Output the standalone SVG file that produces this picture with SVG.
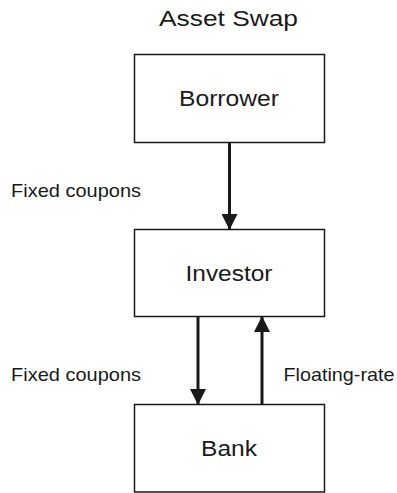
<svg xmlns="http://www.w3.org/2000/svg" width="397" height="493" viewBox="0 0 397 493">
  <style>
    text { font-family: "Liberation Sans", Arial, sans-serif; fill: #1a1a1a; }
    .node rect { fill: #ffffff; stroke: #1a1a1a; stroke-width: 1.5; }
    .name { font-size: 22px; text-anchor: middle; }
    .label { font-size: 18.5px; }
    .flow { stroke: #1a1a1a; stroke-width: 3; fill: none; }
  </style>
  <defs>
    <marker id="head" viewBox="0 0 16 16" refX="15" refY="8" markerWidth="16" markerHeight="16" markerUnits="userSpaceOnUse" orient="auto">
      <path d="M0,0 L16,8 L0,16 Z" fill="#1a1a1a"/>
    </marker>
  </defs>
  <rect width="397" height="493" fill="#ffffff"/>

  <text class="name" x="228.5" y="26" textLength="139" lengthAdjust="spacingAndGlyphs">Asset Swap</text>

  <g id="borrower" class="node">
    <rect x="134.5" y="54.5" width="190" height="88"/>
    <text class="name" x="229" y="106" textLength="100" lengthAdjust="spacingAndGlyphs">Borrower</text>
  </g>
  <g id="investor" class="node">
    <rect x="134.5" y="229.5" width="190" height="87"/>
    <text class="name" x="229" y="281" textLength="87" lengthAdjust="spacingAndGlyphs">Investor</text>
  </g>
  <g id="bank" class="node">
    <rect x="134.5" y="404.5" width="190" height="87.5"/>
    <text class="name" x="229" y="456" textLength="56" lengthAdjust="spacingAndGlyphs">Bank</text>
  </g>

  <g id="connectors">
    <line class="flow" x1="229.5" y1="143" x2="229.5" y2="229" marker-end="url(#head)"/>
    <line class="flow" x1="198" y1="317" x2="198" y2="404" marker-end="url(#head)"/>
    <line class="flow" x1="262" y1="404" x2="262" y2="317" marker-end="url(#head)"/>
  </g>

  <g id="labels">
    <text class="label" x="11" y="197" textLength="130" lengthAdjust="spacingAndGlyphs">Fixed coupons</text>
    <text class="label" x="11" y="381" textLength="130" lengthAdjust="spacingAndGlyphs">Fixed coupons</text>
    <text class="label" x="283.5" y="381" textLength="111" lengthAdjust="spacingAndGlyphs">Floating-rate</text>
  </g>
</svg>
